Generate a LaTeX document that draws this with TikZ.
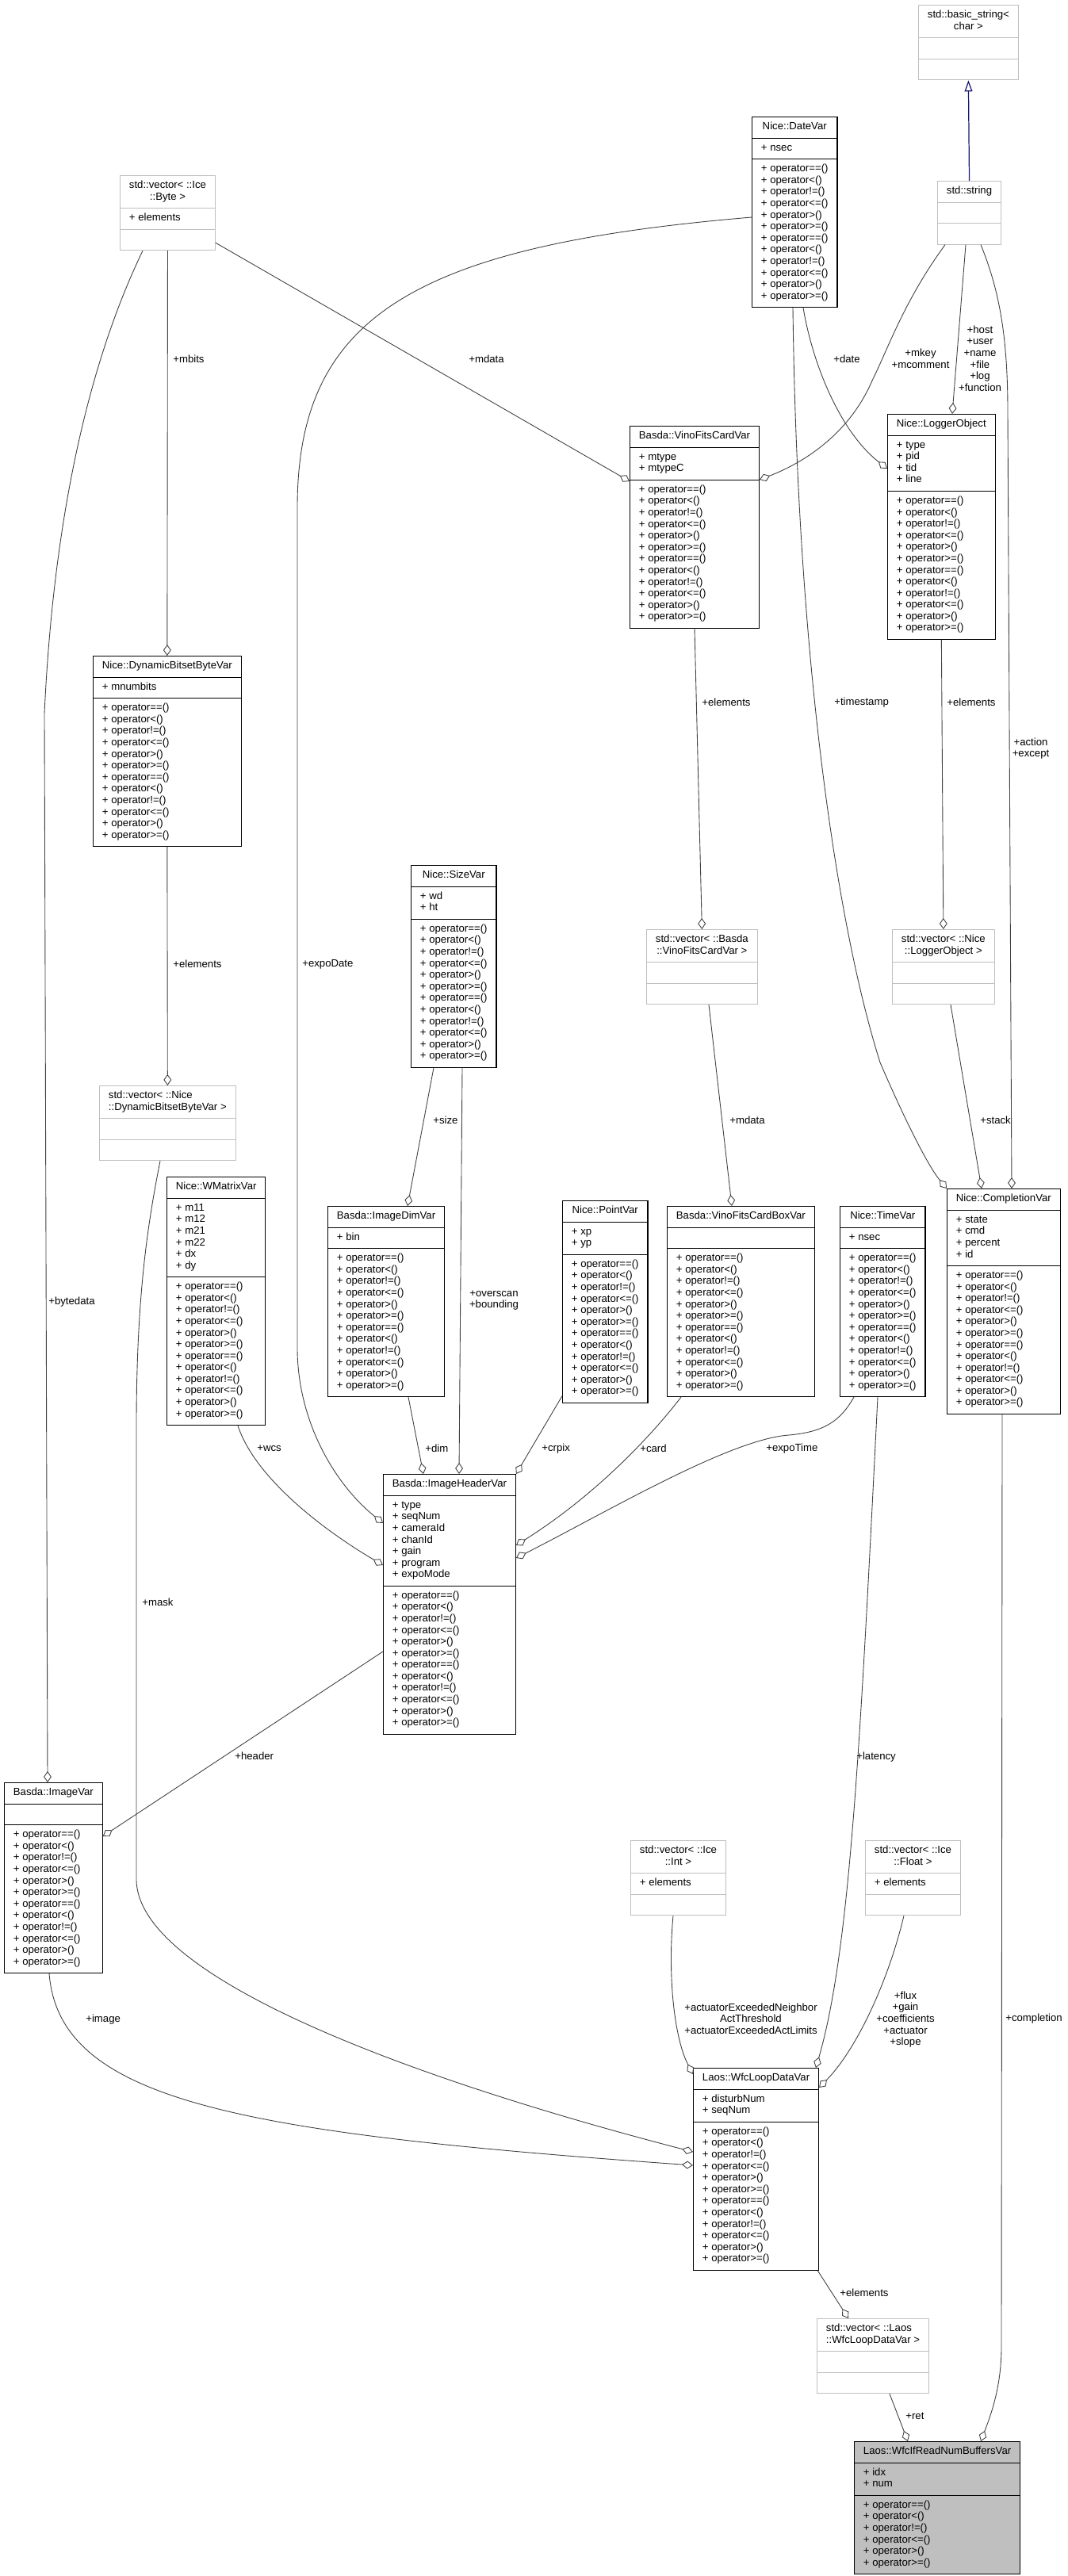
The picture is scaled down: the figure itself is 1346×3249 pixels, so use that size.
\documentclass[tikz,border=0pt]{standalone}
\usepackage{fontspec}
\setmainfont{Liberation Sans}
\usepackage{tikz}
\usetikzlibrary{
  arrows.meta,
  shapes.multipart,
  calc
}
\definecolor{dxEdge}{HTML}{404040}
\definecolor{dxGray}{HTML}{BFBFBF}
\definecolor{dxBlue}{HTML}{191970}
\newcommand{\opsSix}{\strut+ operator==()\\\strut+ operator<()\\\strut+ operator!=()\\\strut+ operator<=()\\\strut+ operator>()\\\strut+ operator>=()}
\newcommand{\opsTwelve}{\opsSix\\\opsSix}
\newcommand{\ctitle}[2]{\begin{tabular}{@{}c@{}}#1\\#2\end{tabular}}
\newcommand{\ltitle}[2]{\begin{tabular}{@{}l@{}}#1\\#2\end{tabular}}
\tikzset{
  dxclass/.style={
    rectangle split, rectangle split parts=3,
    rectangle split part align={center,left,left},
    draw=black, fill=white, line width=0.6pt, align=left,
    inner xsep=6.5pt, inner ysep=3.1pt, anchor=north west,
    font=\fontsize{7.5}{8.3}\selectfont
  },
  dxext/.style={dxclass, draw=dxGray},
  dxmain/.style={dxclass, fill=dxGray},
  member/.style={-{Diamond[open, length=8pt, width=5.6pt]}, dxEdge, line width=0.5pt},
  inherit/.style={-{Triangle[open, length=8pt, width=5.6pt]}, dxBlue, line width=0.7pt},
  role/.style={font=\fontsize{7.5}{8.3}\selectfont, inner sep=0pt, align=center}
}

\begin{document}
\begin{tikzpicture}[x=0.02cm, y=-0.02cm]
  \useasboundingbox[fill=white] (0,0) rectangle (1346,3249);
  % classes
  \node[dxext] (basestr) at (1158,6) {\ctitle{std::basic\_string<}{char >}\nodepart{second}\strut\nodepart{third}\strut};
  \node[dxext] (stdstr) at (1182,228) {\strut std::string\nodepart{second}\strut\nodepart{third}\strut};
  \node[dxclass] (datevar) at (948,147) {\strut Nice::DateVar\nodepart{second}\strut+ nsec\nodepart{third}\opsTwelve};
  \node[dxext] (icebyte) at (151,221) {\ctitle{std::vector< ::Ice}{::Byte >}\nodepart{second}\strut+ elements\nodepart{third}\strut};
  \node[dxclass] (vinocard) at (794,537) {\strut Basda::VinoFitsCardVar\nodepart{second}\strut+ mtype\\\strut+ mtypeC\nodepart{third}\opsTwelve};
  \node[dxclass] (logger) at (1119,522) {\strut Nice::LoggerObject\nodepart{second}\strut+ type\\\strut+ pid\\\strut+ tid\\\strut+ line\nodepart{third}\opsTwelve};
  \node[dxclass] (dynbits) at (117,827) {\strut Nice::DynamicBitsetByteVar\nodepart{second}\strut+ mnumbits\nodepart{third}\opsTwelve};
  \node[dxclass] (sizevar) at (518,1091) {\strut Nice::SizeVar\nodepart{second}\strut+ wd\\\strut+ ht\nodepart{third}\opsTwelve};
  \node[dxext] (vecdyn) at (125,1369) {\ltitle{std::vector< ::Nice}{::DynamicBitsetByteVar >}\nodepart{second}\strut\nodepart{third}\strut};
  \node[dxext] (vecvino) at (815,1172) {\ctitle{std::vector< ::Basda}{::VinoFitsCardVar >}\nodepart{second}\strut\nodepart{third}\strut};
  \node[dxext] (veclog) at (1125,1172) {\ctitle{std::vector< ::Nice}{::LoggerObject >}\nodepart{second}\strut\nodepart{third}\strut};
  \node[dxclass] (wmatrix) at (210,1484) {\strut Nice::WMatrixVar\nodepart{second}\strut+ m11\\\strut+ m12\\\strut+ m21\\\strut+ m22\\\strut+ dx\\\strut+ dy\nodepart{third}\opsTwelve};
  \node[dxclass] (imgdim) at (413,1521) {\strut Basda::ImageDimVar\nodepart{second}\strut+ bin\nodepart{third}\opsTwelve};
  \node[dxclass] (pointvar) at (709,1514) {\strut Nice::PointVar\nodepart{second}\strut+ xp\\\strut+ yp\nodepart{third}\opsTwelve};
  \node[dxclass] (cardbox) at (841,1521) {\strut Basda::VinoFitsCardBoxVar\nodepart{second}\strut\nodepart{third}\opsTwelve};
  \node[dxclass] (timevar) at (1059,1521) {\strut Nice::TimeVar\nodepart{second}\strut+ nsec\nodepart{third}\opsTwelve};
  \node[dxclass] (completion) at (1194,1499) {\strut Nice::CompletionVar\nodepart{second}\strut+ state\\\strut+ cmd\\\strut+ percent\\\strut+ id\nodepart{third}\opsTwelve};
  \node[dxclass] (imghdr) at (483,1859) {\strut Basda::ImageHeaderVar\nodepart{second}\strut+ type\\\strut+ seqNum\\\strut+ cameraId\\\strut+ chanId\\\strut+ gain\\\strut+ program\\\strut+ expoMode\nodepart{third}\opsTwelve};
  \node[dxclass] (imagevar) at (5,2248) {\strut Basda::ImageVar\nodepart{second}\strut\nodepart{third}\opsTwelve};
  \node[dxext] (vecint) at (795,2321) {\ctitle{std::vector< ::Ice}{::Int >}\nodepart{second}\strut+ elements\nodepart{third}\strut};
  \node[dxext] (vecfloat) at (1091,2321) {\ctitle{std::vector< ::Ice}{::Float >}\nodepart{second}\strut+ elements\nodepart{third}\strut};
  \node[dxclass] (wfcloop) at (874,2608) {\strut Laos::WfcLoopDataVar\nodepart{second}\strut+ disturbNum\\\strut+ seqNum\nodepart{third}\opsTwelve};
  \node[dxext] (vecwfc) at (1030,2924) {\ltitle{std::vector< ::Laos}{::WfcLoopDataVar >}\nodepart{second}\strut\nodepart{third}\strut};
  \node[dxmain] (wfcif) at (1077,3079) {\strut Laos::WfcIfReadNumBuffersVar\nodepart{second}\strut+ idx\\\strut+ num\nodepart{third}\opsSix};
  % inheritance
  \draw[inherit] (stdstr.north) -- (basestr.south);
  % members
  \draw[member] (icebyte.south) -- (dynbits.north);
  \draw[member] ($(icebyte.south east)+(0,-10)$) -- ($(vinocard.north west)+(0,70)$);
  \draw[member] ($(icebyte.south west)+(29,0)$) .. controls (130,420) and (70,600) .. (56,900) -- ($(imagevar.north west)+(55,0)$);
  \draw[member] ($(datevar.north west)+(0,127)$) .. controls (520,310) and (375,400) .. (375,640) -- (375,1700) .. controls (375,1790) and (420,1870) .. ($(imghdr.north west)+(0,62)$);
  \draw[member] ($(datevar.south west)+(65,0)$) .. controls (1025,460) and (1060,545) .. ($(logger.north west)+(0,69)$);
  \draw[member] ($(datevar.south west)+(52,0)$) .. controls (1005,800) and (1050,1150) .. (1110,1340) .. controls (1140,1410) and (1170,1470) .. (completion.north west);
  \draw[member] ($(stdstr.south west)+(10,0)$) .. controls (1140,380) and (1120,440) .. (1100,480) .. controls (1070,550) and (1010,585) .. ($(vinocard.north east)+(0,68)$);
  \draw[member] ($(stdstr.south west)+(36,0)$) -- ($(logger.north west)+(82,0)$);
  \draw[member] ($(stdstr.south west)+(55,0)$) .. controls (1262,370) and (1271,430) .. (1271,520) -- ($(completion.north west)+(82,0)$);
  \draw[member] (vinocard.south) -- (vecvino.north);
  \draw[member] (logger.south) -- (veclog.north);
  \draw[member] (dynbits.south) -- (vecdyn.north);
  \draw[member] ($(vecvino.south west)+(79,0)$) -- ($(cardbox.north west)+(82,0)$);
  \draw[member] ($(veclog.south west)+(74,0)$) -- ($(completion.north west)+(44,0)$);
  \draw[member] ($(sizevar.south west)+(29,0)$) -- ($(imgdim.north west)+(101,0)$);
  \draw[member] ($(sizevar.south west)+(65,0)$) -- ($(imghdr.north west)+(96,0)$);
  \draw[member] ($(wmatrix.south west)+(90,0)$) .. controls (320,1860) and (400,1925) .. ($(imghdr.north west)+(0,115)$);
  \draw[member] ($(imgdim.south west)+(102,0)$) -- ($(imghdr.north west)+(51,0)$);
  \draw[member] ($(pointvar.south west)+(0,-9)$) -- (imghdr.north east);
  \draw[member] ($(cardbox.south west)+(18,0)$) .. controls (830,1800) and (760,1880) .. ($(imghdr.north east)+(0,90)$);
  \draw[member] ($(timevar.south west)+(18,0)$) .. controls (1060,1792) and (1040,1806) .. (995,1810) .. controls (920,1815) and (760,1910) .. ($(imghdr.north east)+(0,106)$);
  \draw[member] ($(timevar.south west)+(48,0)$) .. controls (1085,2200) and (1072,2460) .. ($(wfcloop.north west)+(155,0)$);
  \draw[member] ($(completion.south west)+(70,0)$) -- (1263,2960) .. controls (1263,3010) and (1250,3045) .. ($(wfcif.north west)+(160,0)$);
  \draw[member] ($(imghdr.north west)+(0,224)$) -- ($(imagevar.north east)+(0,68)$);
  \draw[member] ($(vecdyn.south west)+(77,0)$) .. controls (185,1550) and (172,1640) .. (172,1800) -- (172,2370) .. controls (172,2500) and (550,2630) .. ($(wfcloop.north west)+(0,106)$);
  \draw[member] ($(imagevar.south west)+(57,0)$) .. controls (75,2650) and (300,2690) .. ($(wfcloop.north west)+(0,123)$);
  \draw[member] ($(vecint.south west)+(54,0)$) .. controls (842,2490) and (850,2570) .. ($(wfcloop.north west)+(0,8)$);
  \draw[member] ($(vecfloat.south west)+(49,0)$) .. controls (1120,2500) and (1080,2585) .. ($(wfcloop.north east)+(0,25)$);
  \draw[member] ($(wfcloop.south east)+(-2,0)$) -- ($(vecwfc.north west)+(40,0)$);
  \draw[member] ($(vecwfc.south west)+(92,0)$) -- ($(wfcif.north west)+(68,0)$);
  % roles
  \node[role, anchor=west] (lmbits) at (218,453) {+mbits};
  \node[role, anchor=west] (lmdata) at (591,453) {+mdata};
  \node[role, anchor=west] (lbytedata) at (61,1642) {+bytedata};
  \node[role, anchor=west] (lexpodate) at (381,1216) {+expoDate};
  \node[role] (ldate) at (1068,453) {+date};
  \node[role] (lmkey) at (1161,452) {+mkey\\+mcomment};
  \node[role] (lhost) at (1236,452) {+host\\+user\\+name\\+file\\+log\\+function};
  \node[role] (laction) at (1300,944) {+action\\+except};
  \node[role, anchor=west] (ltimestamp) at (1052,886) {+timestamp};
  \node[role, anchor=west] (lvinoelem) at (885,886) {+elements};
  \node[role, anchor=west] (llogelem) at (1194,886) {+elements};
  \node[role, anchor=west] (ldynelem) at (218,1216) {+elements};
  \node[role, anchor=west] (lboxdata) at (920,1413) {+mdata};
  \node[role, anchor=west] (lstack) at (1236,1413) {+stack};
  \node[role, anchor=west] (lsize) at (546,1413) {+size};
  \node[role] (loverscan) at (623,1640) {+overscan\\+bounding};
  \node[role, anchor=west] (lwcs) at (324,1827) {+wcs};
  \node[role, anchor=west] (ldim) at (536,1827) {+dim};
  \node[role, anchor=west] (lcrpix) at (683,1827) {+crpix};
  \node[role, anchor=west] (lcard) at (807,1827) {+card};
  \node[role, anchor=west] (lexpotime) at (966,1827) {+expoTime};
  \node[role, anchor=west] (llatency) at (1080,2216) {+latency};
  \node[role, anchor=west] (lcompletion) at (1268,2546) {+completion};
  \node[role, anchor=west] (lheader) at (296,2215) {+header};
  \node[role, anchor=west] (lmask) at (179,2021) {+mask};
  \node[role, anchor=west] (limage) at (108,2547) {+image};
  \node[role] (lactuator) at (947,2546) {+actuatorExceededNeighbor\\ActThreshold\\+actuatorExceededActLimits};
  \node[role] (lflux) at (1142,2547) {+flux\\+gain\\+coefficients\\+actuator\\+slope};
  \node[role, anchor=west] (lwfcelem) at (1059,2892) {+elements};
  \node[role, anchor=west] (lret) at (1142,3047) {+ret};
\end{tikzpicture}
\end{document}
